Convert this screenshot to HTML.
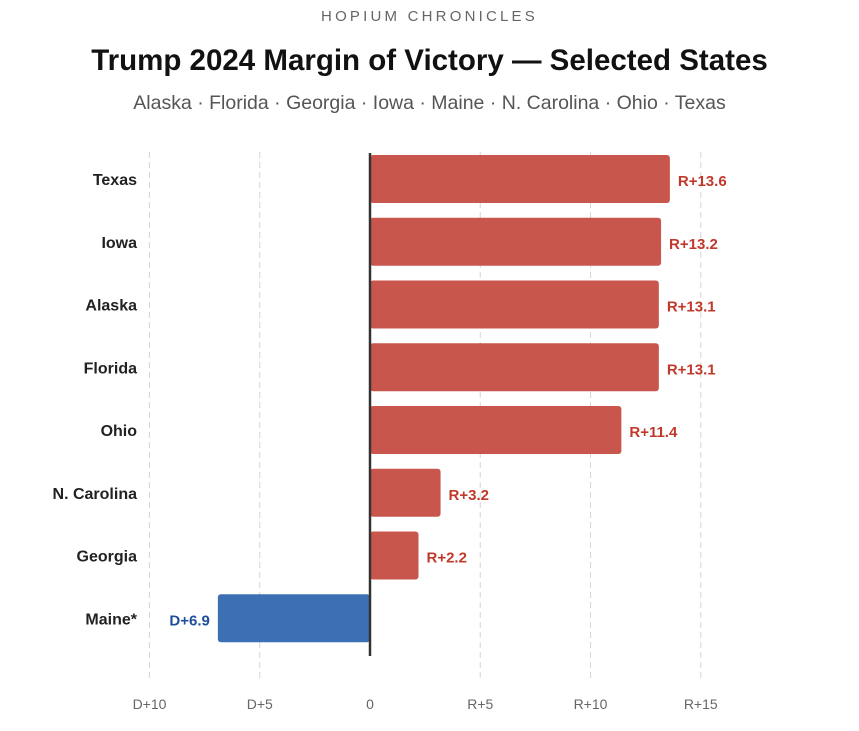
<!DOCTYPE html>
<html><head><meta charset="utf-8"><style>
body{margin:0;background:#fff;width:859px;height:726px;overflow:hidden;font-family:"Liberation Sans",Arial,sans-serif}
</style></head><body>
<svg width="859" height="726" xmlns="http://www.w3.org/2000/svg">
<text x="429.5" y="21" text-anchor="middle" font-size="15" fill="#666" letter-spacing="3.2">HOPIUM CHRONICLES</text>
<text x="429.5" y="70" text-anchor="middle" font-size="29.5" font-weight="bold" fill="#111">Trump 2024 Margin of Victory — Selected States</text>
<text x="429.5" y="109" text-anchor="middle" font-size="19.5" fill="#555">Alaska · Florida · Georgia · Iowa · Maine · N. Carolina · Ohio · Texas</text>
<g id="grid"></g><g id="bars"></g><g id="ticks"></g>
</svg>
<script>
const states=["Texas","Iowa","Alaska","Florida","Ohio","N. Carolina","Georgia","Maine*"];
const margins=[13.6,13.2,13.1,13.1,11.4,3.2,2.2,-6.9];
const tickValues=[-10,-5,0,5,10,15];
const tickLabels=["D+10","D+5","0","R+5","R+10","R+15"];
const NS="http://www.w3.org/2000/svg";
const x=v=>370+v*22.05;
const y=i=>179+i*62.75;
const bh=48;
function mk(t,a,p){const e=document.createElementNS(NS,t);for(const k in a)e.setAttribute(k,a[k]);p.appendChild(e);return e;}
const grid=document.getElementById('grid'),bars=document.getElementById('bars'),ticks=document.getElementById('ticks');
tickValues.forEach((v,i)=>{
  if(v!==0){const g=mk('line',{x1:x(v),x2:x(v),y1:152,y2:682,stroke:'#d6d6d6','stroke-width':1,'stroke-dasharray':'6,4'},grid);
  
  }
  const t=mk('text',{x:x(v),y:709,'text-anchor':'middle','font-size':14,fill:'#666'},ticks);
  t.textContent=tickLabels[i];
  
  
});
states.forEach((s,i)=>{
  const m=margins[i],cy=y(i);
  const x0=Math.min(x(0),x(m)),w=Math.abs(x(m)-x(0));
  const r=mk('rect',{x:x0,y:cy-bh/2,width:w,height:bh,rx:3,fill:m>0?'#c9564d':'#3d70b2'},bars);
  
  
  const l=mk('text',{x:137,y:cy+6,'text-anchor':'end','font-size':16,'font-weight':'bold',fill:'#222'},bars);
  l.textContent=s;
  
  
  const v=mk('text',{x:m>0?x(m)+8:x(m)-8,y:cy+7,'text-anchor':m>0?'start':'end','font-size':15,'font-weight':'bold',fill:m>0?'#c0392b':'#1f4f9a'},bars);
  v.textContent=(m>0?'R+':'D+')+Math.abs(m).toFixed(1);
  
  
});
const z=mk('line',{x1:x(0),x2:x(0),y1:153,y2:656,stroke:'#333','stroke-width':2.5},bars);


</script>
</body></html>
